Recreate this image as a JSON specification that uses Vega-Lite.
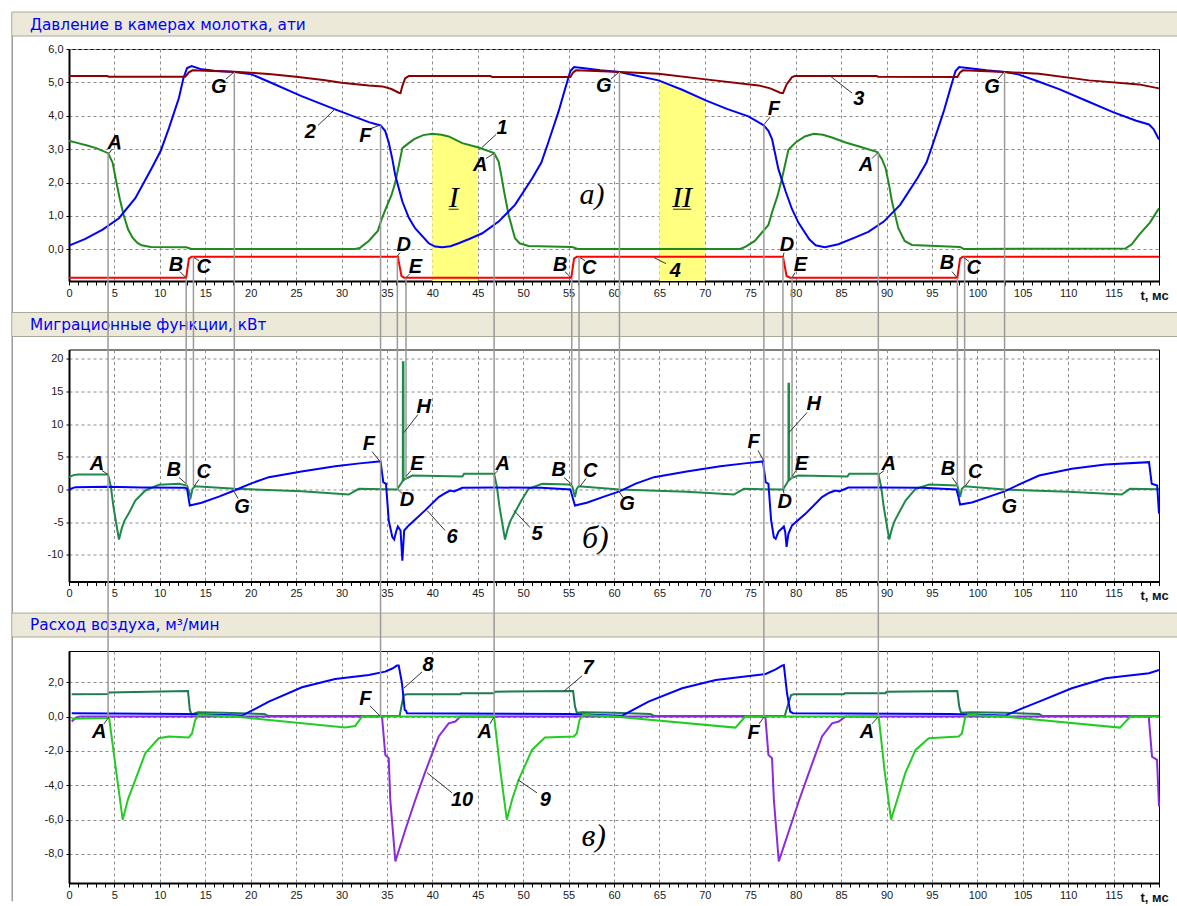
{
"$schema": "https://vega.github.io/schema/vega-lite/v6.json",
"autosize": {"type": "pad"},
"padding": {"left": 10, "top": 11, "right": 0, "bottom": 0},
"background": "white",
"spacing": -4.5,
"config": {
  "view": {"stroke": "#000", "strokeWidth": 1},
  "axis": {"labelFont": "Liberation Sans", "labelFontSize": 11, "labelColor": "#1a1a1a", "domainColor": "#000", "domainWidth": 2, "tickColor": "#000", "gridColor": "#8c8c8c", "gridDash": [3, 3], "gridWidth": 1}
},
"datasets": {
  "p1": [
    {"s":"1","t":0,"v":3.25},{"s":"1","t":1,"v":3.18},{"s":"1","t":2,"v":3.11},{"s":"1","t":3,"v":3.03},{"s":"1","t":4.3,"v":2.88},{"s":"1","t":4.8,"v":2.6},{"s":"1","t":5.2,"v":2.03},{"s":"1","t":5.6,"v":1.5},{"s":"1","t":6,"v":1.04},{"s":"1","t":6.5,"v":0.6},{"s":"1","t":7,"v":0.35},{"s":"1","t":7.5,"v":0.2},{"s":"1","t":8,"v":0.12},{"s":"1","t":9,"v":0.07},{"s":"1","t":12.9,"v":0.06},{"s":"1","t":13.5,"v":0.01},{"s":"1","t":31.5,"v":0.01},{"s":"1","t":32,"v":0.04},{"s":"1","t":33,"v":0.25},{"s":"1","t":34,"v":0.55},{"s":"1","t":34.4,"v":0.89},{"s":"1","t":35,"v":1.3},{"s":"1","t":35.5,"v":1.62},{"s":"1","t":35.9,"v":1.98},{"s":"1","t":36.3,"v":2.5},{"s":"1","t":36.7,"v":3.03},{"s":"1","t":37.4,"v":3.18},{"s":"1","t":38,"v":3.3},{"s":"1","t":39,"v":3.42},{"s":"1","t":40,"v":3.46},{"s":"1","t":41,"v":3.43},{"s":"1","t":41.8,"v":3.38},{"s":"1","t":43.3,"v":3.18},{"s":"1","t":45.1,"v":3.05},{"s":"1","t":46.8,"v":2.88},{"s":"1","t":47.3,"v":2.63},{"s":"1","t":47.6,"v":2.2},{"s":"1","t":47.9,"v":1.73},{"s":"1","t":48.4,"v":1.03},{"s":"1","t":49.1,"v":0.33},{"s":"1","t":49.6,"v":0.18},{"s":"1","t":50.6,"v":0.1},{"s":"1","t":55.4,"v":0.07},{"s":"1","t":56,"v":0.01},{"s":"1","t":73.9,"v":0.01},{"s":"1","t":74.5,"v":0.08},{"s":"1","t":75.5,"v":0.25},{"s":"1","t":77,"v":0.73},{"s":"1","t":77.4,"v":1.11},{"s":"1","t":78,"v":1.6},{"s":"1","t":78.5,"v":2.13},{"s":"1","t":79.2,"v":2.98},{"s":"1","t":80,"v":3.2},{"s":"1","t":81,"v":3.38},{"s":"1","t":82,"v":3.46},{"s":"1","t":83,"v":3.43},{"s":"1","t":84,"v":3.35},{"s":"1","t":85.5,"v":3.2},{"s":"1","t":87,"v":3.08},{"s":"1","t":89,"v":2.91},{"s":"1","t":89.5,"v":2.7},{"s":"1","t":89.9,"v":2.43},{"s":"1","t":90.3,"v":1.9},{"s":"1","t":90.6,"v":1.43},{"s":"1","t":91.3,"v":0.63},{"s":"1","t":92,"v":0.25},{"s":"1","t":92.8,"v":0.13},{"s":"1","t":98.1,"v":0.07},{"s":"1","t":98.5,"v":0.01},{"s":"1","t":116.3,"v":0.02},{"s":"1","t":117,"v":0.15},{"s":"1","t":117.8,"v":0.43},{"s":"1","t":119,"v":0.8},{"s":"1","t":120,"v":1.23},
    {"s":"2","t":0,"v":0.11},{"s":"2","t":1.8,"v":0.31},{"s":"2","t":3.7,"v":0.59},{"s":"2","t":5.5,"v":0.93},{"s":"2","t":7.3,"v":1.53},{"s":"2","t":9.1,"v":2.43},{"s":"2","t":10.1,"v":2.95},{"s":"2","t":11,"v":3.63},{"s":"2","t":12.1,"v":4.53},{"s":"2","t":12.6,"v":5.13},{"s":"2","t":13,"v":5.43},{"s":"2","t":13.5,"v":5.49},{"s":"2","t":14.6,"v":5.39},{"s":"2","t":16,"v":5.35},{"s":"2","t":18.2,"v":5.31},{"s":"2","t":20.1,"v":5.24},{"s":"2","t":22,"v":5.02},{"s":"2","t":25.6,"v":4.59},{"s":"2","t":29.3,"v":4.19},{"s":"2","t":33,"v":3.81},{"s":"2","t":34.3,"v":3.71},{"s":"2","t":34.8,"v":3.55},{"s":"2","t":35.2,"v":3.2},{"s":"2","t":35.6,"v":2.7},{"s":"2","t":35.9,"v":2.24},{"s":"2","t":36.7,"v":1.43},{"s":"2","t":37.4,"v":0.95},{"s":"2","t":38.1,"v":0.63},{"s":"2","t":39.6,"v":0.18},{"s":"2","t":40.3,"v":0.08},{"s":"2","t":41.1,"v":0.06},{"s":"2","t":42,"v":0.09},{"s":"2","t":42.9,"v":0.18},{"s":"2","t":44,"v":0.3},{"s":"2","t":45.5,"v":0.48},{"s":"2","t":47.3,"v":0.83},{"s":"2","t":49.1,"v":1.33},{"s":"2","t":51,"v":2.13},{"s":"2","t":52,"v":2.6},{"s":"2","t":52.8,"v":3.23},{"s":"2","t":53.9,"v":4.13},{"s":"2","t":54.6,"v":4.79},{"s":"2","t":55.2,"v":5.34},{"s":"2","t":55.6,"v":5.46},{"s":"2","t":56.5,"v":5.43},{"s":"2","t":58.5,"v":5.36},{"s":"2","t":60.6,"v":5.31},{"s":"2","t":62.5,"v":5.2},{"s":"2","t":64.9,"v":5.06},{"s":"2","t":67.5,"v":4.78},{"s":"2","t":70.1,"v":4.46},{"s":"2","t":72.5,"v":4.2},{"s":"2","t":74.8,"v":3.98},{"s":"2","t":76.5,"v":3.71},{"s":"2","t":77,"v":3.55},{"s":"2","t":77.4,"v":3.3},{"s":"2","t":78.1,"v":2.4},{"s":"2","t":78.9,"v":1.73},{"s":"2","t":79.6,"v":1.2},{"s":"2","t":80.3,"v":0.8},{"s":"2","t":81.5,"v":0.3},{"s":"2","t":82.2,"v":0.12},{"s":"2","t":83.2,"v":0.06},{"s":"2","t":84.7,"v":0.15},{"s":"2","t":86.5,"v":0.35},{"s":"2","t":88,"v":0.52},{"s":"2","t":89.7,"v":0.83},{"s":"2","t":91.5,"v":1.33},{"s":"2","t":93.4,"v":2.13},{"s":"2","t":94.4,"v":2.6},{"s":"2","t":95.2,"v":3.23},{"s":"2","t":96.3,"v":4.13},{"s":"2","t":97,"v":4.79},{"s":"2","t":97.6,"v":5.34},{"s":"2","t":98,"v":5.46},{"s":"2","t":98.9,"v":5.43},{"s":"2","t":101,"v":5.36},{"s":"2","t":103,"v":5.31},{"s":"2","t":104.5,"v":5.24},{"s":"2","t":106.5,"v":5.05},{"s":"2","t":109,"v":4.8},{"s":"2","t":112,"v":4.45},{"s":"2","t":115,"v":4.1},{"s":"2","t":117.5,"v":3.85},{"s":"2","t":118.9,"v":3.74},{"s":"2","t":119.4,"v":3.6},{"s":"2","t":120,"v":3.29},
    {"s":"3","t":0,"v":5.19},{"s":"3","t":4.2,"v":5.19},{"s":"3","t":4.4,"v":5.17},{"s":"3","t":12.8,"v":5.17},{"s":"3","t":13.2,"v":5.3},{"s":"3","t":13.6,"v":5.36},{"s":"3","t":15,"v":5.35},{"s":"3","t":18.2,"v":5.32},{"s":"3","t":20,"v":5.29},{"s":"3","t":22,"v":5.25},{"s":"3","t":25,"v":5.17},{"s":"3","t":28,"v":5.07},{"s":"3","t":30,"v":4.99},{"s":"3","t":33,"v":4.91},{"s":"3","t":34.5,"v":4.88},{"s":"3","t":35.5,"v":4.8},{"s":"3","t":36.3,"v":4.69},{"s":"3","t":36.5,"v":4.68},{"s":"3","t":36.7,"v":4.89},{"s":"3","t":37,"v":5.12},{"s":"3","t":37.4,"v":5.19},{"s":"3","t":46.4,"v":5.19},{"s":"3","t":46.6,"v":5.16},{"s":"3","t":55.2,"v":5.16},{"s":"3","t":55.5,"v":5.3},{"s":"3","t":55.8,"v":5.36},{"s":"3","t":60.1,"v":5.32},{"s":"3","t":64.9,"v":5.26},{"s":"3","t":70.1,"v":5.09},{"s":"3","t":75.9,"v":4.91},{"s":"3","t":77.2,"v":4.82},{"s":"3","t":78.3,"v":4.69},{"s":"3","t":78.6,"v":4.68},{"s":"3","t":79,"v":4.94},{"s":"3","t":79.6,"v":5.16},{"s":"3","t":79.9,"v":5.19},{"s":"3","t":88.9,"v":5.19},{"s":"3","t":89.1,"v":5.17},{"s":"3","t":97.8,"v":5.16},{"s":"3","t":98.1,"v":5.3},{"s":"3","t":98.4,"v":5.36},{"s":"3","t":103.1,"v":5.31},{"s":"3","t":106.8,"v":5.26},{"s":"3","t":112.3,"v":5.06},{"s":"3","t":117.8,"v":4.94},{"s":"3","t":120,"v":4.82},
    {"s":"4","t":0,"v":-0.85},{"s":"4","t":12.9,"v":-0.85},{"s":"4","t":13.2,"v":-0.28},{"s":"4","t":13.5,"v":-0.22},{"s":"4","t":36.2,"v":-0.22},{"s":"4","t":36.6,"v":-0.8},{"s":"4","t":36.9,"v":-0.85},{"s":"4","t":55.3,"v":-0.85},{"s":"4","t":55.6,"v":-0.28},{"s":"4","t":55.9,"v":-0.22},{"s":"4","t":78.6,"v":-0.22},{"s":"4","t":79,"v":-0.8},{"s":"4","t":79.4,"v":-0.85},{"s":"4","t":97.8,"v":-0.85},{"s":"4","t":98.1,"v":-0.28},{"s":"4","t":98.4,"v":-0.22},{"s":"4","t":120,"v":-0.22}
  ],
  "y1": [
    {"b":"I","t":40,"v":3.46},{"b":"I","t":41,"v":3.43},{"b":"I","t":41.8,"v":3.38},{"b":"I","t":43.3,"v":3.18},{"b":"I","t":45,"v":3.06},
    {"b":"II","t":65,"v":5.05},{"b":"II","t":67.5,"v":4.78},{"b":"II","t":70,"v":4.47}
  ],
  "c1": [
    {"t":-6.25,"v":6.389,"v2":-1.91},
    {"t":4.3,"v":2.88,"v2":-1.91},{"t":12.9,"v":-0.85,"v2":-1.91},{"t":13.7,"v":-0.22,"v2":-1.91},{"t":18.2,"v":5.31,"v2":-1.91},{"t":34.3,"v":3.71,"v2":-1.91},{"t":36.15,"v":-0.22,"v2":-1.91},{"t":37.1,"v":-0.85,"v2":-1.91},{"t":46.8,"v":2.88,"v2":-1.91},{"t":55.35,"v":-0.85,"v2":-1.91},{"t":56.15,"v":-0.22,"v2":-1.91},{"t":60.6,"v":5.31,"v2":-1.91},{"t":76.5,"v":3.71,"v2":-1.91},{"t":78.6,"v":-0.22,"v2":-1.91},{"t":79.6,"v":-0.85,"v2":-1.91},{"t":89.1,"v":2.9,"v2":-1.91},{"t":97.8,"v":-0.85,"v2":-1.91},{"t":98.6,"v":-0.22,"v2":-1.91},{"t":103,"v":5.31,"v2":-1.91}
  ],
  "l1": [
    {"t":4.73,"v":2.99,"t2":4.4,"v2":2.87},{"t":12.22,"v":-0.67,"t2":12.88,"v2":-0.85},{"t":14.31,"v":-0.34,"t2":13.76,"v2":-0.25},{"t":17.28,"v":5.1,"t2":18.17,"v2":5.31},{"t":27.41,"v":3.71,"t2":29.29,"v2":4.2},{"t":33.26,"v":3.62,"t2":34.14,"v2":3.71},{"t":36.44,"v":-0.1,"t2":36.11,"v2":-0.22},{"t":37.54,"v":-0.73,"t2":37.1,"v2":-0.85},{"t":47.01,"v":3.44,"t2":45.47,"v2":3.05},{"t":45.91,"v":2.72,"t2":46.79,"v2":2.87},{"t":54.6,"v":-0.67,"t2":55.27,"v2":-0.85},{"t":56.81,"v":-0.34,"t2":56.26,"v2":-0.25},{"t":59.67,"v":5.1,"t2":60.55,"v2":5.31},{"t":65.73,"v":-0.43,"t2":64.41,"v2":-0.25},{"t":77.18,"v":3.96,"t2":76.52,"v2":3.74},{"t":78.72,"v":-0.1,"t2":78.61,"v2":-0.22},{"t":79.93,"v":-0.7,"t2":79.6,"v2":-0.85},{"t":86.21,"v":4.68,"t2":83.8,"v2":5.19},{"t":88.41,"v":2.72,"t2":89.07,"v2":2.9},{"t":97.22,"v":-0.67,"t2":97.77,"v2":-0.85},{"t":99.09,"v":-0.37,"t2":98.54,"v2":-0.25},{"t":102.28,"v":5.1,"t2":102.94,"v2":5.31},
    {"t":41.8,"v":1.2,"t2":42.9,"v2":1.2},{"t":66.5,"v":1.2,"t2":68.5,"v2":1.2}
  ],
  "n1": [
    {"t":5.03,"v":3.18,"txt":"A"},{"t":11.78,"v":-0.46,"txt":"B"},{"t":14.83,"v":-0.54,"txt":"C"},{"t":16.48,"v":4.86,"txt":"G"},{"t":26.57,"v":3.5,"txt":"2"},{"t":32.62,"v":3.38,"txt":"F"},{"t":36.85,"v":0.13,"txt":"D"},{"t":38.13,"v":-0.52,"txt":"E"},{"t":47.67,"v":3.63,"txt":"1"},{"t":45.28,"v":2.53,"txt":"A"},{"t":54.09,"v":-0.47,"txt":"B"},{"t":57.28,"v":-0.57,"txt":"C"},{"t":58.87,"v":4.89,"txt":"G"},{"t":66.75,"v":-0.65,"txt":"4"},{"t":77.59,"v":4.19,"txt":"F"},{"t":79.05,"v":0.13,"txt":"D"},{"t":80.51,"v":-0.47,"txt":"E"},{"t":86.94,"v":4.49,"txt":"3"},{"t":87.75,"v":2.53,"txt":"A"},{"t":96.66,"v":-0.42,"txt":"B"},{"t":99.6,"v":-0.57,"txt":"C"},{"t":101.62,"v":4.86,"txt":"G"}
  ],
  "p2": [
    {"s":"5","t":0,"v":1.88},{"s":"5","t":0.5,"v":2.2},{"s":"5","t":1,"v":2.28},{"s":"5","t":4.3,"v":2.3},{"s":"5","t":4.6,"v":0.5},{"s":"5","t":4.9,"v":-2.7},{"s":"5","t":5.5,"v":-7.66},{"s":"5","t":5.8,"v":-6},{"s":"5","t":6.1,"v":-4.8},{"s":"5","t":6.57,"v":-3.7},{"s":"5","t":7.3,"v":-1.7},{"s":"5","t":8.4,"v":-0.15},{"s":"5","t":9.9,"v":0.72},{"s":"5","t":12.1,"v":0.87},{"s":"5","t":13,"v":0.61},{"s":"5","t":13.4,"v":-1.17},{"s":"5","t":13.6,"v":0.1},{"s":"5","t":13.9,"v":0.51},{"s":"5","t":18.3,"v":0.1},{"s":"5","t":25.6,"v":-0.26},{"s":"5","t":30.8,"v":-0.77},{"s":"5","t":31.9,"v":0.1},{"s":"5","t":36.1,"v":0},{"s":"5","t":36.6,"v":1},{"s":"5","t":36.75,"v":1.4},{"s":"5","t":36.76,"v":19.5},{"s":"5","t":36.82,"v":19.5},{"s":"5","t":36.83,"v":1.4},{"s":"5","t":37,"v":1.6},{"s":"5","t":37.8,"v":2.14},{"s":"5","t":43.3,"v":1.99},{"s":"5","t":43.5,"v":2.4},{"s":"5","t":46.8,"v":2.4},{"s":"5","t":47.1,"v":0.5},{"s":"5","t":47.4,"v":-2.7},{"s":"5","t":48,"v":-7.66},{"s":"5","t":48.3,"v":-6},{"s":"5","t":48.6,"v":-4.8},{"s":"5","t":49.1,"v":-3.5},{"s":"5","t":49.8,"v":-1.7},{"s":"5","t":50.6,"v":0.1},{"s":"5","t":52.1,"v":0.87},{"s":"5","t":55,"v":0.77},{"s":"5","t":55.4,"v":0.5},{"s":"5","t":55.7,"v":-1.17},{"s":"5","t":55.9,"v":0.1},{"s":"5","t":56.1,"v":0.5},{"s":"5","t":60.6,"v":0},{"s":"5","t":68,"v":-0.35},{"s":"5","t":73.2,"v":-0.77},{"s":"5","t":74.3,"v":0.1},{"s":"5","t":78.6,"v":0},{"s":"5","t":79.05,"v":1},{"s":"5","t":79.2,"v":1.4},{"s":"5","t":79.21,"v":16.2},{"s":"5","t":79.27,"v":16.2},{"s":"5","t":79.28,"v":1.4},{"s":"5","t":79.6,"v":1.8},{"s":"5","t":80.3,"v":2.14},{"s":"5","t":85.7,"v":1.99},{"s":"5","t":85.9,"v":2.4},{"s":"5","t":89.1,"v":2.4},{"s":"5","t":89.4,"v":0.5},{"s":"5","t":89.7,"v":-2.7},{"s":"5","t":90.3,"v":-7.66},{"s":"5","t":90.6,"v":-6},{"s":"5","t":90.9,"v":-4.8},{"s":"5","t":91.4,"v":-3.5},{"s":"5","t":92.1,"v":-1.7},{"s":"5","t":93.2,"v":0.1},{"s":"5","t":94.7,"v":0.77},{"s":"5","t":97.8,"v":0.61},{"s":"5","t":98.1,"v":-1.17},{"s":"5","t":98.3,"v":0.1},{"s":"5","t":98.6,"v":0.5},{"s":"5","t":103,"v":0},{"s":"5","t":110,"v":-0.35},{"s":"5","t":115.9,"v":-0.77},{"s":"5","t":116.8,"v":0.1},{"s":"5","t":120,"v":0.05},
    {"s":"6","t":0,"v":0},{"s":"6","t":0.7,"v":0.36},{"s":"6","t":4.3,"v":0.4},{"s":"6","t":8,"v":0.3},{"s":"6","t":12.8,"v":0.25},{"s":"6","t":13,"v":0.1},{"s":"6","t":13.3,"v":-2.45},{"s":"6","t":14.6,"v":-2.04},{"s":"6","t":16.5,"v":-1.1},{"s":"6","t":18.2,"v":-0.15},{"s":"6","t":20,"v":0.9},{"s":"6","t":22,"v":1.89},{"s":"6","t":25.6,"v":2.76},{"s":"6","t":29.3,"v":3.57},{"s":"6","t":32,"v":4},{"s":"6","t":34.1,"v":4.29},{"s":"6","t":34.3,"v":4.3},{"s":"6","t":34.6,"v":1.12},{"s":"6","t":34.9,"v":0.87},{"s":"6","t":35.2,"v":-4.75},{"s":"6","t":35.6,"v":-7.3},{"s":"6","t":35.8,"v":-7.66},{"s":"6","t":36,"v":-6.5},{"s":"6","t":36.2,"v":-5.67},{"s":"6","t":36.5,"v":-6.28},{"s":"6","t":36.7,"v":-10.9},{"s":"6","t":36.9,"v":-6.28},{"s":"6","t":37.4,"v":-5.51},{"s":"6","t":39.2,"v":-3.2},{"s":"6","t":40.7,"v":-1.17},{"s":"6","t":41.5,"v":-0.5},{"s":"6","t":42,"v":-0.15},{"s":"6","t":42.4,"v":-0.3},{"s":"6","t":43.3,"v":0.26},{"s":"6","t":46.8,"v":0.3},{"s":"6","t":52,"v":0.25},{"s":"6","t":55.2,"v":0},{"s":"6","t":55.4,"v":-1},{"s":"6","t":55.7,"v":-2.45},{"s":"6","t":57,"v":-2.04},{"s":"6","t":58.9,"v":-1.1},{"s":"6","t":60.6,"v":-0.3},{"s":"6","t":62.4,"v":0.9},{"s":"6","t":64.4,"v":1.89},{"s":"6","t":68,"v":2.76},{"s":"6","t":71.7,"v":3.57},{"s":"6","t":74.4,"v":4},{"s":"6","t":76.4,"v":4.3},{"s":"6","t":76.7,"v":1.12},{"s":"6","t":77,"v":0.87},{"s":"6","t":77.3,"v":-4.75},{"s":"6","t":77.6,"v":-7.3},{"s":"6","t":77.8,"v":-7.55},{"s":"6","t":78.1,"v":-6.5},{"s":"6","t":78.7,"v":-5.67},{"s":"6","t":78.85,"v":-6.5},{"s":"6","t":79,"v":-8.8},{"s":"6","t":79.2,"v":-6.8},{"s":"6","t":79.6,"v":-5.51},{"s":"6","t":81.1,"v":-3.7},{"s":"6","t":82.9,"v":-1.17},{"s":"6","t":83.7,"v":-0.5},{"s":"6","t":84.4,"v":-0.15},{"s":"6","t":84.8,"v":-0.3},{"s":"6","t":85.8,"v":0.3},{"s":"6","t":89.1,"v":0.3},{"s":"6","t":94,"v":0.25},{"s":"6","t":97.7,"v":0},{"s":"6","t":97.9,"v":-1},{"s":"6","t":98.1,"v":-2.3},{"s":"6","t":99.4,"v":-2},{"s":"6","t":101.3,"v":-1.1},{"s":"6","t":103,"v":-0.3},{"s":"6","t":104.8,"v":0.9},{"s":"6","t":106.8,"v":2.14},{"s":"6","t":110.4,"v":3.17},{"s":"6","t":114.1,"v":3.83},{"s":"6","t":118.9,"v":4.19},{"s":"6","t":119.2,"v":0.87},{"s":"6","t":119.8,"v":0.61},{"s":"6","t":120,"v":-3.7}
  ],
  "c2": [
    {"t":-6.25,"v":23.44,"v2":-19},
    {"t":4.3,"v":27.12,"v2":-19},{"t":12.9,"v":27.12,"v2":0.6},{"t":13.7,"v":27.12,"v2":0.5},{"t":18.2,"v":27.12,"v2":-0.15},{"t":34.3,"v":27.12,"v2":-19},{"t":36.15,"v":27.12,"v2":0},{"t":37.1,"v":27.12,"v2":1.6},{"t":46.8,"v":27.12,"v2":-19},{"t":55.35,"v":27.12,"v2":0.5},{"t":56.15,"v":27.12,"v2":0.5},{"t":60.6,"v":27.12,"v2":-0.3},{"t":76.5,"v":27.12,"v2":-19},{"t":78.6,"v":27.12,"v2":0},{"t":79.6,"v":27.12,"v2":1.6},{"t":89.1,"v":27.12,"v2":-19},{"t":97.8,"v":27.12,"v2":0.5},{"t":98.6,"v":27.12,"v2":0.5},{"t":103,"v":27.12,"v2":-0.3}
  ],
  "l2": [
    {"t":3.63,"v":2.91,"t2":4.29,"v2":2.3},{"t":12.11,"v":1.84,"t2":12.88,"v2":0.92},{"t":14.31,"v":1.53,"t2":13.76,"v2":0.46},{"t":18.61,"v":-1.38,"t2":18.17,"v2":-0.31},{"t":33.36,"v":5.82,"t2":34.24,"v2":4.29},{"t":36.66,"v":-0.61,"t2":36.22,"v2":0},{"t":37.65,"v":2.91,"t2":37.1,"v2":1.99},{"t":38.42,"v":11.49,"t2":36.88,"v2":8.73},{"t":41.4,"v":-6.28,"t2":39.42,"v2":-3.22},{"t":47.23,"v":2.91,"t2":46.79,"v2":2.3},{"t":50.75,"v":-5.82,"t2":48.99,"v2":-3.22},{"t":54.5,"v":1.84,"t2":55.38,"v2":0.77},{"t":56.92,"v":1.68,"t2":56.26,"v2":0.46},{"t":61,"v":-1.23,"t2":60.55,"v2":-0.31},{"t":75.86,"v":5.97,"t2":76.52,"v2":4.29},{"t":78.72,"v":-0.61,"t2":78.61,"v2":0},{"t":80.04,"v":2.91,"t2":79.6,"v2":1.99},{"t":81.25,"v":11.79,"t2":79.27,"v2":8.73},{"t":89.73,"v":2.91,"t2":89.18,"v2":2.3},{"t":97.22,"v":1.84,"t2":97.77,"v2":0.77},{"t":99.2,"v":1.53,"t2":98.65,"v2":0.46},{"t":103.05,"v":-1.38,"t2":102.94,"v2":-0.31}
  ],
  "n2": [
    {"t":3.08,"v":3.94,"txt":"A"},{"t":11.53,"v":3.02,"txt":"B"},{"t":14.83,"v":2.65,"txt":"C"},{"t":19.05,"v":-2.71,"txt":"G"},{"t":33,"v":7,"txt":"F"},{"t":37.21,"v":-1.68,"txt":"D"},{"t":38.31,"v":3.94,"txt":"E"},{"t":39.05,"v":12.6,"txt":"H"},{"t":42.17,"v":-7.3,"txt":"6"},{"t":47.75,"v":3.94,"txt":"A"},{"t":51.52,"v":-6.78,"txt":"5"},{"t":53.91,"v":2.91,"txt":"B"},{"t":57.39,"v":2.8,"txt":"C"},{"t":61.43,"v":-2.19,"txt":"G"},{"t":75.38,"v":7.24,"txt":"F"},{"t":78.8,"v":-1.94,"txt":"D"},{"t":80.62,"v":3.94,"txt":"E"},{"t":81.99,"v":13.12,"txt":"H"},{"t":90.24,"v":3.94,"txt":"A"},{"t":96.77,"v":3.17,"txt":"B"},{"t":99.78,"v":2.65,"txt":"C"},{"t":103.52,"v":-2.71,"txt":"G"}
  ],
  "p3": [
    {"s":"7","t":0.3,"v":1.3},{"s":"7","t":4.3,"v":1.32},{"s":"7","t":4.4,"v":1.4},{"s":"7","t":13.1,"v":1.49},{"s":"7","t":13.3,"v":0.4},{"s":"7","t":13.5,"v":0.12},{"s":"7","t":14.2,"v":0.26},{"s":"7","t":17,"v":0.22},{"s":"7","t":21.5,"v":0.15},{"s":"7","t":22,"v":0.03},{"s":"7","t":36.4,"v":0.03},{"s":"7","t":36.6,"v":0.6},{"s":"7","t":36.85,"v":1.26},{"s":"7","t":37.2,"v":1.3},{"s":"7","t":43.1,"v":1.3},{"s":"7","t":43.2,"v":1.36},{"s":"7","t":46.8,"v":1.36},{"s":"7","t":46.9,"v":1.45},{"s":"7","t":55.5,"v":1.49},{"s":"7","t":55.7,"v":0.6},{"s":"7","t":55.9,"v":0.23},{"s":"7","t":56.5,"v":0.26},{"s":"7","t":60,"v":0.22},{"s":"7","t":64,"v":0.15},{"s":"7","t":64.5,"v":0.03},{"s":"7","t":78.8,"v":0.03},{"s":"7","t":79.1,"v":0.6},{"s":"7","t":79.5,"v":1.26},{"s":"7","t":79.8,"v":1.3},{"s":"7","t":85.3,"v":1.3},{"s":"7","t":85.4,"v":1.36},{"s":"7","t":89.9,"v":1.36},{"s":"7","t":90,"v":1.45},{"s":"7","t":97.8,"v":1.49},{"s":"7","t":98,"v":0.6},{"s":"7","t":98.2,"v":0.23},{"s":"7","t":99.4,"v":0.26},{"s":"7","t":103,"v":0.22},{"s":"7","t":106.8,"v":0.15},{"s":"7","t":107.2,"v":0.03},{"s":"7","t":120,"v":0.03},
    {"s":"8","t":0.3,"v":0.2},{"s":"8","t":13,"v":0.15},{"s":"8","t":15,"v":0.12},{"s":"8","t":19.05,"v":0.06},{"s":"8","t":20.5,"v":0.45},{"s":"8","t":22,"v":0.87},{"s":"8","t":25.65,"v":1.71},{"s":"8","t":29.3,"v":2.19},{"s":"8","t":33,"v":2.42},{"s":"8","t":34.8,"v":2.62},{"s":"8","t":35.6,"v":2.8},{"s":"8","t":36.1,"v":2.97},{"s":"8","t":36.3,"v":2.97},{"s":"8","t":36.66,"v":1.94},{"s":"8","t":36.96,"v":0.39},{"s":"8","t":37.1,"v":0.35},{"s":"8","t":37.2,"v":0.2},{"s":"8","t":55,"v":0.15},{"s":"8","t":60.9,"v":0.05},{"s":"8","t":62.3,"v":0.45},{"s":"8","t":63.8,"v":0.87},{"s":"8","t":67.5,"v":1.65},{"s":"8","t":71.2,"v":2.13},{"s":"8","t":76.7,"v":2.48},{"s":"8","t":77.8,"v":2.75},{"s":"8","t":78.5,"v":2.97},{"s":"8","t":78.7,"v":3},{"s":"8","t":79.05,"v":1.36},{"s":"8","t":79.4,"v":0.29},{"s":"8","t":79.7,"v":0.2},{"s":"8","t":97,"v":0.15},{"s":"8","t":103.1,"v":0.06},{"s":"8","t":104.8,"v":0.45},{"s":"8","t":106.8,"v":0.87},{"s":"8","t":110.4,"v":1.65},{"s":"8","t":114.1,"v":2.23},{"s":"8","t":118.9,"v":2.52},{"s":"8","t":120,"v":2.71},
    {"s":"10","t":0.3,"v":-0.29},{"s":"10","t":0.8,"v":-0.05},{"s":"10","t":1.2,"v":0},{"s":"10","t":34.46,"v":0},{"s":"10","t":34.82,"v":-2.23},{"s":"10","t":35.2,"v":-2.42},{"s":"10","t":35.37,"v":-4.84},{"s":"10","t":35.93,"v":-8.43},{"s":"10","t":37.03,"v":-6.59},{"s":"10","t":38.13,"v":-4.84},{"s":"10","t":39.23,"v":-3.2},{"s":"10","t":40.7,"v":-1.16},{"s":"10","t":41.8,"v":-0.39},{"s":"10","t":42.53,"v":-0.29},{"s":"10","t":43.08,"v":0},{"s":"10","t":76.66,"v":0},{"s":"10","t":77,"v":-2.23},{"s":"10","t":77.4,"v":-2.42},{"s":"10","t":77.6,"v":-4.84},{"s":"10","t":78.14,"v":-8.43},{"s":"10","t":79.3,"v":-6.59},{"s":"10","t":80.4,"v":-4.84},{"s":"10","t":81.5,"v":-3.2},{"s":"10","t":82.9,"v":-1.16},{"s":"10","t":84,"v":-0.39},{"s":"10","t":84.74,"v":-0.29},{"s":"10","t":85.47,"v":0},{"s":"10","t":118.87,"v":0},{"s":"10","t":119.23,"v":-2.33},{"s":"10","t":119.78,"v":-2.52},{"s":"10","t":120,"v":-5.23},
    {"s":"9","t":0.3,"v":-0.12},{"s":"9","t":4.2,"v":-0.08},{"s":"9","t":4.4,"v":0},{"s":"9","t":5.2,"v":-3.2},{"s":"9","t":5.91,"v":-6},{"s":"9","t":6.5,"v":-4.8},{"s":"9","t":7.3,"v":-3.68},{"s":"9","t":8.4,"v":-2.13},{"s":"9","t":9.88,"v":-1.26},{"s":"9","t":10.98,"v":-1.16},{"s":"9","t":13.18,"v":-1.22},{"s":"9","t":13.54,"v":-0.98},{"s":"9","t":13.9,"v":-0.19},{"s":"9","t":14.28,"v":0.1},{"s":"9","t":18.3,"v":0},{"s":"9","t":30.4,"v":-0.64},{"s":"9","t":31.5,"v":-0.55},{"s":"9","t":32.26,"v":0},{"s":"9","t":46.8,"v":0},{"s":"9","t":47.5,"v":-3.2},{"s":"9","t":48.2,"v":-6},{"s":"9","t":48.8,"v":-4.8},{"s":"9","t":49.5,"v":-3.68},{"s":"9","t":50.97,"v":-1.94},{"s":"9","t":52.4,"v":-1.22},{"s":"9","t":55.57,"v":-1.16},{"s":"9","t":55.9,"v":-0.98},{"s":"9","t":56.2,"v":-0.2},{"s":"9","t":56.6,"v":0.1},{"s":"9","t":60,"v":0},{"s":"9","t":73.36,"v":-0.64},{"s":"9","t":74.46,"v":0},{"s":"9","t":89.14,"v":0},{"s":"9","t":89.8,"v":-3.2},{"s":"9","t":90.5,"v":-6},{"s":"9","t":91.2,"v":-4.8},{"s":"9","t":92.07,"v":-3.29},{"s":"9","t":93.2,"v":-1.94},{"s":"9","t":94.65,"v":-1.26},{"s":"9","t":97.95,"v":-1.16},{"s":"9","t":98.3,"v":-0.98},{"s":"9","t":98.68,"v":0},{"s":"9","t":99,"v":0.1},{"s":"9","t":103,"v":0},{"s":"9","t":115.7,"v":-0.64},{"s":"9","t":116.85,"v":0},{"s":"9","t":120,"v":0}
  ],
  "c3": [
    {"t":-6.25,"v":4.635,"v2":-10.75},
    {"t":4.3,"v":6.03,"v2":0},{"t":34.3,"v":6.03,"v2":0},{"t":46.8,"v":6.03,"v2":0},{"t":76.5,"v":6.03,"v2":0},{"t":89.1,"v":6.03,"v2":0}
  ],
  "l3": [
    {"t":3.85,"v":-0.42,"t2":4.4,"v2":-0.02},{"t":33.14,"v":0.62,"t2":34.24,"v2":0.04},{"t":38.86,"v":2.6,"t2":36.88,"v2":1.66},{"t":56.48,"v":2.37,"t2":54.5,"v2":1.49},{"t":46.35,"v":-0.42,"t2":46.79,"v2":-0.02},{"t":75.97,"v":-0.42,"t2":76.52,"v2":-0.02},{"t":42.17,"v":-4.44,"t2":39.42,"v2":-3.27},{"t":51.52,"v":-4.44,"t2":49.43,"v2":-3.68},{"t":88.41,"v":-0.42,"t2":89.07,"v2":-0.02}
  ],
  "n3": [
    {"t":3.34,"v":-0.87,"txt":"A"},{"t":32.62,"v":1.01,"txt":"F"},{"t":39.52,"v":3.0,"txt":"8"},{"t":57.14,"v":2.81,"txt":"7"},{"t":45.77,"v":-0.87,"txt":"A"},{"t":75.38,"v":-0.97,"txt":"F"},{"t":43.27,"v":-4.84,"txt":"10"},{"t":52.44,"v":-4.84,"txt":"9"},{"t":87.86,"v":-0.87,"txt":"A"}
  ]
},
"vconcat": [
  {
    "width": 1090, "height": 232,
    "layer": [
      {"data": {"values": [{}]}, "mark": {"type": "rect", "fill": "#ECE9D8", "stroke": "#ACA899", "strokeWidth": 1},
       "encoding": {
         "x": {"datum": -6.3, "type": "quantitative", "scale": {"domain": [0, 120], "nice": false, "zero": false}, "axis": {"tickCount": 120, "labelExpr": "datum.value % 5 === 0 && datum.value < 120 ? datum.label : ''", "grid": true, "gridOpacity": {"condition": {"test": "datum.value % 5 === 0 && datum.value > 0 && datum.value < 120", "value": 1}, "value": 0}, "tickSize": 4, "labelPadding": 2, "labelOverlap": false, "labelFlush": false, "title": "t, мс", "titleX": 1071, "titleY": 14, "titleAlign": "left", "titleBaseline": "middle", "titleFont": "Liberation Sans", "titleFontSize": 13, "titleFontWeight": "bold", "titleColor": "#111"}},
         "x2": {"datum": 122.1},
         "y": {"datum": 7.108, "type": "quantitative", "scale": {"domain": [-0.95, 6], "nice": false, "zero": false}, "axis": {"tickCount": 7, "labelExpr": "replace(format(datum.value + 0, '.1f'), '.', ',')", "grid": true, "tickSize": 3, "labelPadding": 3, "labelOverlap": false, "title": null}},
         "y2": {"datum": 6.389}}},
      {"data": {"values": [{"txt": "Давление в камерах молотка, ати"}]}, "mark": {"type": "text", "font": "DejaVu Sans", "fontSize": 15.3, "color": "#0000FF", "align": "left", "baseline": "middle"},
       "encoding": {
         "x": {"datum": -4.29, "type": "quantitative", "scale": {"domain": [0, 120], "nice": false, "zero": false}, "axis": {"tickCount": 120, "labelExpr": "datum.value % 5 === 0 && datum.value < 120 ? datum.label : ''", "grid": true, "gridOpacity": {"condition": {"test": "datum.value % 5 === 0 && datum.value > 0 && datum.value < 120", "value": 1}, "value": 0}, "tickSize": 4, "labelPadding": 2, "labelOverlap": false, "labelFlush": false, "title": "t, мс", "titleX": 1071, "titleY": 14, "titleAlign": "left", "titleBaseline": "middle", "titleFont": "Liberation Sans", "titleFontSize": 13, "titleFontWeight": "bold", "titleColor": "#111"}},
         "y": {"datum": 6.72, "type": "quantitative", "scale": {"domain": [-0.95, 6], "nice": false, "zero": false}, "axis": {"tickCount": 7, "labelExpr": "replace(format(datum.value + 0, '.1f'), '.', ',')", "grid": true, "tickSize": 3, "labelPadding": 3, "labelOverlap": false, "title": null}},
         "text": {"field": "txt"}}},
      {"data": {"name": "y1"}, "mark": {"type": "area", "color": "#FFFF80", "opacity": 1},
       "encoding": {
         "x": {"field": "t", "type": "quantitative", "scale": {"domain": [0, 120], "nice": false, "zero": false}, "axis": {"tickCount": 120, "labelExpr": "datum.value % 5 === 0 && datum.value < 120 ? datum.label : ''", "grid": true, "gridOpacity": {"condition": {"test": "datum.value % 5 === 0 && datum.value > 0 && datum.value < 120", "value": 1}, "value": 0}, "tickSize": 4, "labelPadding": 2, "labelOverlap": false, "labelFlush": false, "title": "t, мс", "titleX": 1071, "titleY": 14, "titleAlign": "left", "titleBaseline": "middle", "titleFont": "Liberation Sans", "titleFontSize": 13, "titleFontWeight": "bold", "titleColor": "#111"}},
         "y": {"field": "v", "type": "quantitative", "scale": {"domain": [-0.95, 6], "nice": false, "zero": false}, "axis": {"tickCount": 7, "labelExpr": "replace(format(datum.value + 0, '.1f'), '.', ',')", "grid": true, "tickSize": 3, "labelPadding": 3, "labelOverlap": false, "title": null}},
         "y2": {"datum": -0.95}, "detail": {"field": "b"}}},
      {"data": {"name": "p1"}, "mark": {"type": "line", "strokeWidth": 2},
       "encoding": {
         "x": {"field": "t", "type": "quantitative", "scale": {"domain": [0, 120], "nice": false, "zero": false}, "axis": {"tickCount": 120, "labelExpr": "datum.value % 5 === 0 && datum.value < 120 ? datum.label : ''", "grid": true, "gridOpacity": {"condition": {"test": "datum.value % 5 === 0 && datum.value > 0 && datum.value < 120", "value": 1}, "value": 0}, "tickSize": 4, "labelPadding": 2, "labelOverlap": false, "labelFlush": false, "title": "t, мс", "titleX": 1071, "titleY": 14, "titleAlign": "left", "titleBaseline": "middle", "titleFont": "Liberation Sans", "titleFontSize": 13, "titleFontWeight": "bold", "titleColor": "#111"}},
         "y": {"field": "v", "type": "quantitative", "scale": {"domain": [-0.95, 6], "nice": false, "zero": false}, "axis": {"tickCount": 7, "labelExpr": "replace(format(datum.value + 0, '.1f'), '.', ',')", "grid": true, "tickSize": 3, "labelPadding": 3, "labelOverlap": false, "title": null}},
         "color": {"field": "s", "type": "nominal", "legend": null, "scale": {"domain": ["1","2","3","4","5","6","7","8","9","10"], "range": ["#1f8a1f","#0000ff","#8b0000","#ff0000","#1e8a48","#0000ff","#1f7a50","#0000ff","#22cc22","#8a2be2"]}}
       }},
      {"data": {"name": "c1"}, "mark": {"type": "rule", "color": "#9a9a9a", "strokeWidth": 1.5},
       "encoding": {
         "x": {"field": "t", "type": "quantitative", "scale": {"domain": [0, 120], "nice": false, "zero": false}, "axis": {"tickCount": 120, "labelExpr": "datum.value % 5 === 0 && datum.value < 120 ? datum.label : ''", "grid": true, "gridOpacity": {"condition": {"test": "datum.value % 5 === 0 && datum.value > 0 && datum.value < 120", "value": 1}, "value": 0}, "tickSize": 4, "labelPadding": 2, "labelOverlap": false, "labelFlush": false, "title": "t, мс", "titleX": 1071, "titleY": 14, "titleAlign": "left", "titleBaseline": "middle", "titleFont": "Liberation Sans", "titleFontSize": 13, "titleFontWeight": "bold", "titleColor": "#111"}},
         "y": {"field": "v", "type": "quantitative", "scale": {"domain": [-0.95, 6], "nice": false, "zero": false}, "axis": {"tickCount": 7, "labelExpr": "replace(format(datum.value + 0, '.1f'), '.', ',')", "grid": true, "tickSize": 3, "labelPadding": 3, "labelOverlap": false, "title": null}},
         "y2": {"field": "v2"}}},
      {"data": {"name": "l1"}, "mark": {"type": "rule", "color": "#333", "strokeWidth": 1},
       "encoding": {
         "x": {"field": "t", "type": "quantitative", "scale": {"domain": [0, 120], "nice": false, "zero": false}, "axis": {"tickCount": 120, "labelExpr": "datum.value % 5 === 0 && datum.value < 120 ? datum.label : ''", "grid": true, "gridOpacity": {"condition": {"test": "datum.value % 5 === 0 && datum.value > 0 && datum.value < 120", "value": 1}, "value": 0}, "tickSize": 4, "labelPadding": 2, "labelOverlap": false, "labelFlush": false, "title": "t, мс", "titleX": 1071, "titleY": 14, "titleAlign": "left", "titleBaseline": "middle", "titleFont": "Liberation Sans", "titleFontSize": 13, "titleFontWeight": "bold", "titleColor": "#111"}},
         "y": {"field": "v", "type": "quantitative", "scale": {"domain": [-0.95, 6], "nice": false, "zero": false}, "axis": {"tickCount": 7, "labelExpr": "replace(format(datum.value + 0, '.1f'), '.', ',')", "grid": true, "tickSize": 3, "labelPadding": 3, "labelOverlap": false, "title": null}},
         "x2": {"field": "t2"}, "y2": {"field": "v2"}}},
      {"data": {"name": "n1"}, "mark": {"type": "text", "font": "Liberation Sans", "fontStyle": "italic", "fontWeight": "bold", "fontSize": 20, "color": "#000", "align": "center", "baseline": "middle"},
       "encoding": {
         "x": {"field": "t", "type": "quantitative", "scale": {"domain": [0, 120], "nice": false, "zero": false}, "axis": {"tickCount": 120, "labelExpr": "datum.value % 5 === 0 && datum.value < 120 ? datum.label : ''", "grid": true, "gridOpacity": {"condition": {"test": "datum.value % 5 === 0 && datum.value > 0 && datum.value < 120", "value": 1}, "value": 0}, "tickSize": 4, "labelPadding": 2, "labelOverlap": false, "labelFlush": false, "title": "t, мс", "titleX": 1071, "titleY": 14, "titleAlign": "left", "titleBaseline": "middle", "titleFont": "Liberation Sans", "titleFontSize": 13, "titleFontWeight": "bold", "titleColor": "#111"}},
         "y": {"field": "v", "type": "quantitative", "scale": {"domain": [-0.95, 6], "nice": false, "zero": false}, "axis": {"tickCount": 7, "labelExpr": "replace(format(datum.value + 0, '.1f'), '.', ',')", "grid": true, "tickSize": 3, "labelPadding": 3, "labelOverlap": false, "title": null}},
         "text": {"field": "txt"}}},
      {"data": {"values": [{"t": 57.58, "v": 1.64, "txt": "а)"}, {"t": 42.35, "v": 1.53, "txt": "I"}, {"t": 67.49, "v": 1.53, "txt": "II"}]}, "mark": {"type": "text", "font": "Liberation Serif", "fontStyle": "italic", "fontSize": 30, "color": "#000", "align": "center", "baseline": "middle"},
       "encoding": {
         "x": {"field": "t", "type": "quantitative", "scale": {"domain": [0, 120], "nice": false, "zero": false}, "axis": {"tickCount": 120, "labelExpr": "datum.value % 5 === 0 && datum.value < 120 ? datum.label : ''", "grid": true, "gridOpacity": {"condition": {"test": "datum.value % 5 === 0 && datum.value > 0 && datum.value < 120", "value": 1}, "value": 0}, "tickSize": 4, "labelPadding": 2, "labelOverlap": false, "labelFlush": false, "title": "t, мс", "titleX": 1071, "titleY": 14, "titleAlign": "left", "titleBaseline": "middle", "titleFont": "Liberation Sans", "titleFontSize": 13, "titleFontWeight": "bold", "titleColor": "#111"}},
         "y": {"field": "v", "type": "quantitative", "scale": {"domain": [-0.95, 6], "nice": false, "zero": false}, "axis": {"tickCount": 7, "labelExpr": "replace(format(datum.value + 0, '.1f'), '.', ',')", "grid": true, "tickSize": 3, "labelPadding": 3, "labelOverlap": false, "title": null}},
         "text": {"field": "txt"}}}
    ]
  },
  {
    "width": 1090, "height": 232,
    "layer": [
      {"data": {"values": [{}]}, "mark": {"type": "rect", "fill": "#ECE9D8", "stroke": "#ACA899", "strokeWidth": 1},
       "encoding": {
         "x": {"datum": -6.3, "type": "quantitative", "scale": {"domain": [0, 120], "nice": false, "zero": false}, "axis": {"tickCount": 120, "labelExpr": "datum.value % 5 === 0 && datum.value < 120 ? datum.label : ''", "grid": true, "gridOpacity": {"condition": {"test": "datum.value % 5 === 0 && datum.value > 0 && datum.value < 120", "value": 1}, "value": 0}, "tickSize": 4, "labelPadding": 2, "labelOverlap": false, "labelFlush": false, "title": "t, мс", "titleX": 1071, "titleY": 14, "titleAlign": "left", "titleBaseline": "middle", "titleFont": "Liberation Sans", "titleFontSize": 13, "titleFontWeight": "bold", "titleColor": "#111"}},
         "x2": {"datum": 122.1},
         "y": {"datum": 27.12, "type": "quantitative", "scale": {"domain": [-14.1, 21.45], "nice": false, "zero": false}, "axis": {"tickCount": 7, "labelExpr": "replace(format(datum.value + 0, 'd'), '−', '-')", "grid": true, "tickSize": 3, "labelPadding": 3, "labelOverlap": false, "title": null}},
         "y2": {"datum": 23.44}}},
      {"data": {"values": [{"txt": "Миграционные функции, кВт"}]}, "mark": {"type": "text", "font": "DejaVu Sans", "fontSize": 15.3, "color": "#0000FF", "align": "left", "baseline": "middle"},
       "encoding": {
         "x": {"datum": -4.29, "type": "quantitative", "scale": {"domain": [0, 120], "nice": false, "zero": false}, "axis": {"tickCount": 120, "labelExpr": "datum.value % 5 === 0 && datum.value < 120 ? datum.label : ''", "grid": true, "gridOpacity": {"condition": {"test": "datum.value % 5 === 0 && datum.value > 0 && datum.value < 120", "value": 1}, "value": 0}, "tickSize": 4, "labelPadding": 2, "labelOverlap": false, "labelFlush": false, "title": "t, мс", "titleX": 1071, "titleY": 14, "titleAlign": "left", "titleBaseline": "middle", "titleFont": "Liberation Sans", "titleFontSize": 13, "titleFontWeight": "bold", "titleColor": "#111"}},
         "y": {"datum": 25.28, "type": "quantitative", "scale": {"domain": [-14.1, 21.45], "nice": false, "zero": false}, "axis": {"tickCount": 7, "labelExpr": "replace(format(datum.value + 0, 'd'), '−', '-')", "grid": true, "tickSize": 3, "labelPadding": 3, "labelOverlap": false, "title": null}},
         "text": {"field": "txt"}}},
      {"data": {"name": "p2"}, "mark": {"type": "line", "strokeWidth": 2},
       "encoding": {
         "x": {"field": "t", "type": "quantitative", "scale": {"domain": [0, 120], "nice": false, "zero": false}, "axis": {"tickCount": 120, "labelExpr": "datum.value % 5 === 0 && datum.value < 120 ? datum.label : ''", "grid": true, "gridOpacity": {"condition": {"test": "datum.value % 5 === 0 && datum.value > 0 && datum.value < 120", "value": 1}, "value": 0}, "tickSize": 4, "labelPadding": 2, "labelOverlap": false, "labelFlush": false, "title": "t, мс", "titleX": 1071, "titleY": 14, "titleAlign": "left", "titleBaseline": "middle", "titleFont": "Liberation Sans", "titleFontSize": 13, "titleFontWeight": "bold", "titleColor": "#111"}},
         "y": {"field": "v", "type": "quantitative", "scale": {"domain": [-14.1, 21.45], "nice": false, "zero": false}, "axis": {"tickCount": 7, "labelExpr": "replace(format(datum.value + 0, 'd'), '−', '-')", "grid": true, "tickSize": 3, "labelPadding": 3, "labelOverlap": false, "title": null}},
         "color": {"field": "s", "type": "nominal", "legend": null, "scale": {"domain": ["1","2","3","4","5","6","7","8","9","10"], "range": ["#1f8a1f","#0000ff","#8b0000","#ff0000","#1e8a48","#0000ff","#1f7a50","#0000ff","#22cc22","#8a2be2"]}}
       }},
      {"data": {"name": "c2"}, "mark": {"type": "rule", "color": "#9a9a9a", "strokeWidth": 1.5},
       "encoding": {
         "x": {"field": "t", "type": "quantitative", "scale": {"domain": [0, 120], "nice": false, "zero": false}, "axis": {"tickCount": 120, "labelExpr": "datum.value % 5 === 0 && datum.value < 120 ? datum.label : ''", "grid": true, "gridOpacity": {"condition": {"test": "datum.value % 5 === 0 && datum.value > 0 && datum.value < 120", "value": 1}, "value": 0}, "tickSize": 4, "labelPadding": 2, "labelOverlap": false, "labelFlush": false, "title": "t, мс", "titleX": 1071, "titleY": 14, "titleAlign": "left", "titleBaseline": "middle", "titleFont": "Liberation Sans", "titleFontSize": 13, "titleFontWeight": "bold", "titleColor": "#111"}},
         "y": {"field": "v", "type": "quantitative", "scale": {"domain": [-14.1, 21.45], "nice": false, "zero": false}, "axis": {"tickCount": 7, "labelExpr": "replace(format(datum.value + 0, 'd'), '−', '-')", "grid": true, "tickSize": 3, "labelPadding": 3, "labelOverlap": false, "title": null}},
         "y2": {"field": "v2"}}},
      {"data": {"name": "l2"}, "mark": {"type": "rule", "color": "#333", "strokeWidth": 1},
       "encoding": {
         "x": {"field": "t", "type": "quantitative", "scale": {"domain": [0, 120], "nice": false, "zero": false}, "axis": {"tickCount": 120, "labelExpr": "datum.value % 5 === 0 && datum.value < 120 ? datum.label : ''", "grid": true, "gridOpacity": {"condition": {"test": "datum.value % 5 === 0 && datum.value > 0 && datum.value < 120", "value": 1}, "value": 0}, "tickSize": 4, "labelPadding": 2, "labelOverlap": false, "labelFlush": false, "title": "t, мс", "titleX": 1071, "titleY": 14, "titleAlign": "left", "titleBaseline": "middle", "titleFont": "Liberation Sans", "titleFontSize": 13, "titleFontWeight": "bold", "titleColor": "#111"}},
         "y": {"field": "v", "type": "quantitative", "scale": {"domain": [-14.1, 21.45], "nice": false, "zero": false}, "axis": {"tickCount": 7, "labelExpr": "replace(format(datum.value + 0, 'd'), '−', '-')", "grid": true, "tickSize": 3, "labelPadding": 3, "labelOverlap": false, "title": null}},
         "x2": {"field": "t2"}, "y2": {"field": "v2"}}},
      {"data": {"name": "n2"}, "mark": {"type": "text", "font": "Liberation Sans", "fontStyle": "italic", "fontWeight": "bold", "fontSize": 20, "color": "#000", "align": "center", "baseline": "middle"},
       "encoding": {
         "x": {"field": "t", "type": "quantitative", "scale": {"domain": [0, 120], "nice": false, "zero": false}, "axis": {"tickCount": 120, "labelExpr": "datum.value % 5 === 0 && datum.value < 120 ? datum.label : ''", "grid": true, "gridOpacity": {"condition": {"test": "datum.value % 5 === 0 && datum.value > 0 && datum.value < 120", "value": 1}, "value": 0}, "tickSize": 4, "labelPadding": 2, "labelOverlap": false, "labelFlush": false, "title": "t, мс", "titleX": 1071, "titleY": 14, "titleAlign": "left", "titleBaseline": "middle", "titleFont": "Liberation Sans", "titleFontSize": 13, "titleFontWeight": "bold", "titleColor": "#111"}},
         "y": {"field": "v", "type": "quantitative", "scale": {"domain": [-14.1, 21.45], "nice": false, "zero": false}, "axis": {"tickCount": 7, "labelExpr": "replace(format(datum.value + 0, 'd'), '−', '-')", "grid": true, "tickSize": 3, "labelPadding": 3, "labelOverlap": false, "title": null}},
         "text": {"field": "txt"}}},
      {"data": {"values": [{"t": 57.94, "v": -7.5, "txt": "б)"}]}, "mark": {"type": "text", "font": "Liberation Serif", "fontStyle": "italic", "fontSize": 32, "color": "#000", "align": "center", "baseline": "middle"},
       "encoding": {
         "x": {"field": "t", "type": "quantitative", "scale": {"domain": [0, 120], "nice": false, "zero": false}, "axis": {"tickCount": 120, "labelExpr": "datum.value % 5 === 0 && datum.value < 120 ? datum.label : ''", "grid": true, "gridOpacity": {"condition": {"test": "datum.value % 5 === 0 && datum.value > 0 && datum.value < 120", "value": 1}, "value": 0}, "tickSize": 4, "labelPadding": 2, "labelOverlap": false, "labelFlush": false, "title": "t, мс", "titleX": 1071, "titleY": 14, "titleAlign": "left", "titleBaseline": "middle", "titleFont": "Liberation Sans", "titleFontSize": 13, "titleFontWeight": "bold", "titleColor": "#111"}},
         "y": {"field": "v", "type": "quantitative", "scale": {"domain": [-14.1, 21.45], "nice": false, "zero": false}, "axis": {"tickCount": 7, "labelExpr": "replace(format(datum.value + 0, 'd'), '−', '-')", "grid": true, "tickSize": 3, "labelPadding": 3, "labelOverlap": false, "title": null}},
         "text": {"field": "txt"}}}
    ]
  },
  {
    "width": 1090, "height": 232,
    "layer": [
      {"data": {"values": [{}]}, "mark": {"type": "rect", "fill": "#ECE9D8", "stroke": "#ACA899", "strokeWidth": 1},
       "encoding": {
         "x": {"datum": -6.3, "type": "quantitative", "scale": {"domain": [0, 120], "nice": false, "zero": false}, "axis": {"tickCount": 120, "labelExpr": "datum.value % 5 === 0 && datum.value < 120 ? datum.label : ''", "grid": true, "gridOpacity": {"condition": {"test": "datum.value % 5 === 0 && datum.value > 0 && datum.value < 120", "value": 1}, "value": 0}, "tickSize": 4, "labelPadding": 2, "labelOverlap": false, "labelFlush": false, "title": "t, мс", "titleX": 1071, "titleY": 14, "titleAlign": "left", "titleBaseline": "middle", "titleFont": "Liberation Sans", "titleFontSize": 13, "titleFontWeight": "bold", "titleColor": "#111"}},
         "x2": {"datum": 122.1},
         "y": {"datum": 6.03, "type": "quantitative", "scale": {"domain": [-9.69, 3.82], "nice": false, "zero": false}, "axis": {"tickCount": 7, "labelExpr": "replace(replace(format(datum.value + 0, '.1f'), '.', ','), '−', '-')", "grid": true, "tickSize": 3, "labelPadding": 3, "labelOverlap": false, "title": null}},
         "y2": {"datum": 4.635}}},
      {"data": {"values": [{"txt": "Расход воздуха, м³/мин"}]}, "mark": {"type": "text", "font": "DejaVu Sans", "fontSize": 15.3, "color": "#0000FF", "align": "left", "baseline": "middle"},
       "encoding": {
         "x": {"datum": -4.29, "type": "quantitative", "scale": {"domain": [0, 120], "nice": false, "zero": false}, "axis": {"tickCount": 120, "labelExpr": "datum.value % 5 === 0 && datum.value < 120 ? datum.label : ''", "grid": true, "gridOpacity": {"condition": {"test": "datum.value % 5 === 0 && datum.value > 0 && datum.value < 120", "value": 1}, "value": 0}, "tickSize": 4, "labelPadding": 2, "labelOverlap": false, "labelFlush": false, "title": "t, мс", "titleX": 1071, "titleY": 14, "titleAlign": "left", "titleBaseline": "middle", "titleFont": "Liberation Sans", "titleFontSize": 13, "titleFontWeight": "bold", "titleColor": "#111"}},
         "y": {"datum": 5.33, "type": "quantitative", "scale": {"domain": [-9.69, 3.82], "nice": false, "zero": false}, "axis": {"tickCount": 7, "labelExpr": "replace(replace(format(datum.value + 0, '.1f'), '.', ','), '−', '-')", "grid": true, "tickSize": 3, "labelPadding": 3, "labelOverlap": false, "title": null}},
         "text": {"field": "txt"}}},
      {"data": {"name": "p3"}, "mark": {"type": "line", "strokeWidth": 2},
       "encoding": {
         "x": {"field": "t", "type": "quantitative", "scale": {"domain": [0, 120], "nice": false, "zero": false}, "axis": {"tickCount": 120, "labelExpr": "datum.value % 5 === 0 && datum.value < 120 ? datum.label : ''", "grid": true, "gridOpacity": {"condition": {"test": "datum.value % 5 === 0 && datum.value > 0 && datum.value < 120", "value": 1}, "value": 0}, "tickSize": 4, "labelPadding": 2, "labelOverlap": false, "labelFlush": false, "title": "t, мс", "titleX": 1071, "titleY": 14, "titleAlign": "left", "titleBaseline": "middle", "titleFont": "Liberation Sans", "titleFontSize": 13, "titleFontWeight": "bold", "titleColor": "#111"}},
         "y": {"field": "v", "type": "quantitative", "scale": {"domain": [-9.69, 3.82], "nice": false, "zero": false}, "axis": {"tickCount": 7, "labelExpr": "replace(replace(format(datum.value + 0, '.1f'), '.', ','), '−', '-')", "grid": true, "tickSize": 3, "labelPadding": 3, "labelOverlap": false, "title": null}},
         "color": {"field": "s", "type": "nominal", "legend": null, "scale": {"domain": ["1","2","3","4","5","6","7","8","9","10"], "range": ["#1f8a1f","#0000ff","#8b0000","#ff0000","#1e8a48","#0000ff","#1f7a50","#0000ff","#22cc22","#8a2be2"]}}
       }},
      {"data": {"name": "c3"}, "mark": {"type": "rule", "color": "#9a9a9a", "strokeWidth": 1.5},
       "encoding": {
         "x": {"field": "t", "type": "quantitative", "scale": {"domain": [0, 120], "nice": false, "zero": false}, "axis": {"tickCount": 120, "labelExpr": "datum.value % 5 === 0 && datum.value < 120 ? datum.label : ''", "grid": true, "gridOpacity": {"condition": {"test": "datum.value % 5 === 0 && datum.value > 0 && datum.value < 120", "value": 1}, "value": 0}, "tickSize": 4, "labelPadding": 2, "labelOverlap": false, "labelFlush": false, "title": "t, мс", "titleX": 1071, "titleY": 14, "titleAlign": "left", "titleBaseline": "middle", "titleFont": "Liberation Sans", "titleFontSize": 13, "titleFontWeight": "bold", "titleColor": "#111"}},
         "y": {"field": "v", "type": "quantitative", "scale": {"domain": [-9.69, 3.82], "nice": false, "zero": false}, "axis": {"tickCount": 7, "labelExpr": "replace(replace(format(datum.value + 0, '.1f'), '.', ','), '−', '-')", "grid": true, "tickSize": 3, "labelPadding": 3, "labelOverlap": false, "title": null}},
         "y2": {"field": "v2"}}},
      {"data": {"name": "l3"}, "mark": {"type": "rule", "color": "#333", "strokeWidth": 1},
       "encoding": {
         "x": {"field": "t", "type": "quantitative", "scale": {"domain": [0, 120], "nice": false, "zero": false}, "axis": {"tickCount": 120, "labelExpr": "datum.value % 5 === 0 && datum.value < 120 ? datum.label : ''", "grid": true, "gridOpacity": {"condition": {"test": "datum.value % 5 === 0 && datum.value > 0 && datum.value < 120", "value": 1}, "value": 0}, "tickSize": 4, "labelPadding": 2, "labelOverlap": false, "labelFlush": false, "title": "t, мс", "titleX": 1071, "titleY": 14, "titleAlign": "left", "titleBaseline": "middle", "titleFont": "Liberation Sans", "titleFontSize": 13, "titleFontWeight": "bold", "titleColor": "#111"}},
         "y": {"field": "v", "type": "quantitative", "scale": {"domain": [-9.69, 3.82], "nice": false, "zero": false}, "axis": {"tickCount": 7, "labelExpr": "replace(replace(format(datum.value + 0, '.1f'), '.', ','), '−', '-')", "grid": true, "tickSize": 3, "labelPadding": 3, "labelOverlap": false, "title": null}},
         "x2": {"field": "t2"}, "y2": {"field": "v2"}}},
      {"data": {"name": "n3"}, "mark": {"type": "text", "font": "Liberation Sans", "fontStyle": "italic", "fontWeight": "bold", "fontSize": 20, "color": "#000", "align": "center", "baseline": "middle"},
       "encoding": {
         "x": {"field": "t", "type": "quantitative", "scale": {"domain": [0, 120], "nice": false, "zero": false}, "axis": {"tickCount": 120, "labelExpr": "datum.value % 5 === 0 && datum.value < 120 ? datum.label : ''", "grid": true, "gridOpacity": {"condition": {"test": "datum.value % 5 === 0 && datum.value > 0 && datum.value < 120", "value": 1}, "value": 0}, "tickSize": 4, "labelPadding": 2, "labelOverlap": false, "labelFlush": false, "title": "t, мс", "titleX": 1071, "titleY": 14, "titleAlign": "left", "titleBaseline": "middle", "titleFont": "Liberation Sans", "titleFontSize": 13, "titleFontWeight": "bold", "titleColor": "#111"}},
         "y": {"field": "v", "type": "quantitative", "scale": {"domain": [-9.69, 3.82], "nice": false, "zero": false}, "axis": {"tickCount": 7, "labelExpr": "replace(replace(format(datum.value + 0, '.1f'), '.', ','), '−', '-')", "grid": true, "tickSize": 3, "labelPadding": 3, "labelOverlap": false, "title": null}},
         "text": {"field": "txt"}}},
      {"data": {"values": [{"t": 57.77, "v": -6.98, "txt": "в)"}]}, "mark": {"type": "text", "font": "Liberation Serif", "fontStyle": "italic", "fontSize": 32, "color": "#000", "align": "center", "baseline": "middle"},
       "encoding": {
         "x": {"field": "t", "type": "quantitative", "scale": {"domain": [0, 120], "nice": false, "zero": false}, "axis": {"tickCount": 120, "labelExpr": "datum.value % 5 === 0 && datum.value < 120 ? datum.label : ''", "grid": true, "gridOpacity": {"condition": {"test": "datum.value % 5 === 0 && datum.value > 0 && datum.value < 120", "value": 1}, "value": 0}, "tickSize": 4, "labelPadding": 2, "labelOverlap": false, "labelFlush": false, "title": "t, мс", "titleX": 1071, "titleY": 14, "titleAlign": "left", "titleBaseline": "middle", "titleFont": "Liberation Sans", "titleFontSize": 13, "titleFontWeight": "bold", "titleColor": "#111"}},
         "y": {"field": "v", "type": "quantitative", "scale": {"domain": [-9.69, 3.82], "nice": false, "zero": false}, "axis": {"tickCount": 7, "labelExpr": "replace(replace(format(datum.value + 0, '.1f'), '.', ','), '−', '-')", "grid": true, "tickSize": 3, "labelPadding": 3, "labelOverlap": false, "title": null}},
         "text": {"field": "txt"}}}
    ]
  }
]
}
